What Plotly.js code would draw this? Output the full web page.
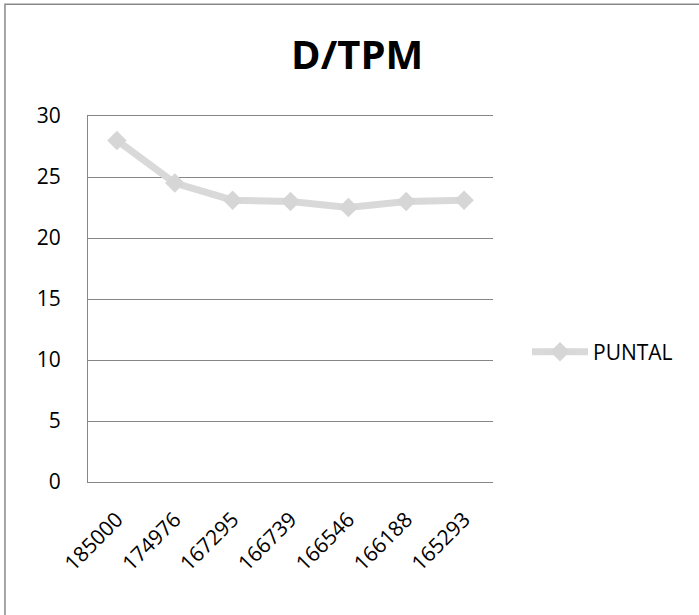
<!DOCTYPE html>
<html>
<head>
<meta charset="utf-8">
<script src="https://cdn.plot.ly/plotly-3.0.1.min.js"></script>
<style>html,body{margin:0;padding:0;background:#fff;}#chart{width:699px;height:615px;}</style>
</head>
<body>
<div id="chart"></div>
<script>
const categories = ["185000", "174976", "167295", "166739", "166546", "166188", "165293"];
const puntal = [28, 24.5, 23.1, 23.0, 22.5, 23.0, 23.1];
const seriesName = "PUNTAL";
const chartTitle = "D/TPM";
const yTicks = [0, 5, 10, 15, 20, 25, 30];

const trace = {
  x: categories,
  y: puntal,
  name: seriesName,
  type: "scatter",
  mode: "lines+markers",
  line: {color: "#d9d9d9", width: 7},
  marker: {symbol: "diamond", size: 15, color: "#d6d6d6"}
};

const layout = {
  width: 699,
  height: 615,
  margin: {l: 88, r: 206, t: 116, b: 133},
  paper_bgcolor: "#ffffff",
  plot_bgcolor: "#ffffff",
  font: {family: "Open Sans, sans-serif", size: 21, color: "#000"},
  title: {
    text: "<b>" + chartTitle + "</b>",
    font: {family: "Open Sans, sans-serif", size: 40, color: "#000"},
    x: 0.511, xref: "container", xanchor: "center",
    y: 0.911, yref: "container", yanchor: "middle"
  },
  xaxis: {
    type: "category",
    range: [-0.5, 6.5],
    tickangle: -45,
    showgrid: false,
    showline: true,
    mirror: true,
    linecolor: "#868686",
    linewidth: 1,
    zeroline: false,
    ticks: "",
    ticklabelstandoff: 16,
    tickfont: {size: 21, color: "#000"}
  },
  yaxis: {
    range: [0, 30],
    tickvals: yTicks,
    showgrid: true,
    gridcolor: "#868686",
    gridwidth: 1,
    showline: true,
    linecolor: "#868686",
    linewidth: 1,
    zeroline: true,
    zerolinecolor: "#868686",
    zerolinewidth: 1,
    ticks: "",
    ticklabelstandoff: 22,
    tickfont: {size: 21, color: "#000"}
  },
  showlegend: true,
  legend: {
    x: 1.084, xanchor: "left",
    y: 0.355, yanchor: "middle",
    itemwidth: 56,
    font: {size: 21, color: "#000"},
    bgcolor: "rgba(0,0,0,0)"
  },
  shapes: [{
    type: "rect", xref: "paper", yref: "paper",
    x0: -0.205, x1: 2.0, y0: -1.0, y1: 1.305,
    line: {color: "#898989", width: 1.5},
    fillcolor: "rgba(0,0,0,0)",
    layer: "below"
  }]
};

Plotly.newPlot("chart", [trace], layout, {displayModeBar: false, staticPlot: true});
</script>
</body>
</html>
